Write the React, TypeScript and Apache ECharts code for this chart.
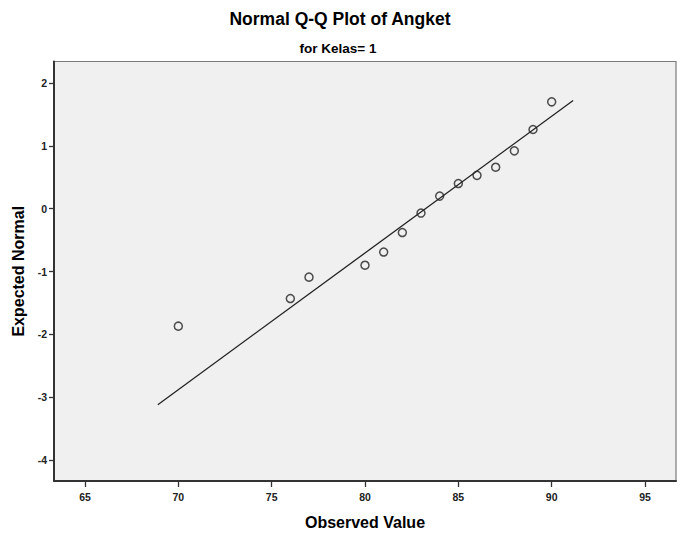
import React, { useEffect, useRef } from "react";
import * as echarts from "echarts";

const observedValues = [70, 76, 77, 80, 81, 82, 83, 84, 85, 86, 87, 88, 89, 90];
const expectedNormal = [-1.87, -1.43, -1.09, -0.9, -0.69, -0.38, -0.07, 0.2, 0.4, 0.53, 0.66, 0.92, 1.26, 1.7];
const refLineX = [68.9, 91.15];
const refLineY = [-3.12, 1.72];
const xTicks = [65, 70, 75, 80, 85, 90, 95];
const yTicks = [-4, -3, -2, -1, 0, 1, 2];

const FONT = "'Liberation Sans', Arial, sans-serif";

export default function App() {
  const ref = useRef<HTMLDivElement>(null);
  useEffect(() => {
    if (!ref.current) return;
    const chart = echarts.init(ref.current, undefined, { renderer: "svg" });
    chart.setOption({
      animation: false,
      backgroundColor: "#ffffff",
      graphic: [
        {
          type: "text",
          x: 340,
          y: 19,
          style: {
            text: "Normal Q-Q Plot of Angket",
            align: "center",
            verticalAlign: "middle",
            fontFamily: FONT,
            fontWeight: "bold",
            fontSize: 17.5,
            fill: "#000",
          },
        },
        {
          type: "text",
          x: 338,
          y: 48,
          style: {
            text: "for Kelas= 1",
            align: "center",
            verticalAlign: "middle",
            fontFamily: FONT,
            fontWeight: "bold",
            fontSize: 13.5,
            fill: "#000",
          },
        },
      ],
      grid: {
        left: 54,
        top: 61.5,
        right: 15,
        bottom: 54,
        containLabel: false,
        outerBoundsMode: "none",
        show: true,
        backgroundColor: "#f0f0f0",
        borderColor: "#7a7a7a",
        borderWidth: 1.2,
      },
      xAxis: {
        type: "value",
        min: 63.34,
        max: 96.66,
        name: "Observed Value",
        nameLocation: "middle",
        nameGap: 33,
        nameTextStyle: { fontFamily: FONT, fontWeight: "bold", fontSize: 16, color: "#000" },
        axisLine: { show: true, onZero: false, lineStyle: { color: "#333", width: 2 } },
        axisTick: { show: true, customValues: xTicks, length: 6, lineStyle: { color: "#333", width: 1.3 } },
        axisLabel: { customValues: xTicks, margin: 10, fontFamily: FONT, fontSize: 10.5, fontWeight: "bold", color: "#222" },
        splitLine: { show: false },
      },
      yAxis: {
        type: "value",
        min: -4.334,
        max: 2.342,
        name: "Expected Normal",
        nameLocation: "middle",
        nameGap: 28,
        nameTextStyle: { fontFamily: FONT, fontWeight: "bold", fontSize: 16, color: "#000" },
        axisLine: { show: true, onZero: false, lineStyle: { color: "#333", width: 2 } },
        axisTick: { show: true, customValues: yTicks, length: 5, lineStyle: { color: "#333", width: 1.3 } },
        axisLabel: { customValues: yTicks, margin: 7, fontFamily: FONT, fontSize: 10.5, fontWeight: "bold", color: "#222" },
        splitLine: { show: false },
      },
      series: [
        {
          type: "line",
          data: refLineX.map((x, i) => [x, refLineY[i]]),
          showSymbol: false,
          symbol: "none",
          lineStyle: { color: "#222", width: 1.3 },
          z: 2,
        },
        {
          type: "scatter",
          data: observedValues.map((x, i) => [x, expectedNormal[i]]),
          symbol: "circle",
          symbolSize: 8,
          itemStyle: { color: "rgba(0,0,0,0)", borderColor: "#222", borderWidth: 1.5 },
          z: 3,
        },
      ],
    });
    return () => chart.dispose();
  }, []);
  return <div ref={ref} style={{ width: 691, height: 535, position: "absolute", left: 0, top: 0 }} />;
}
